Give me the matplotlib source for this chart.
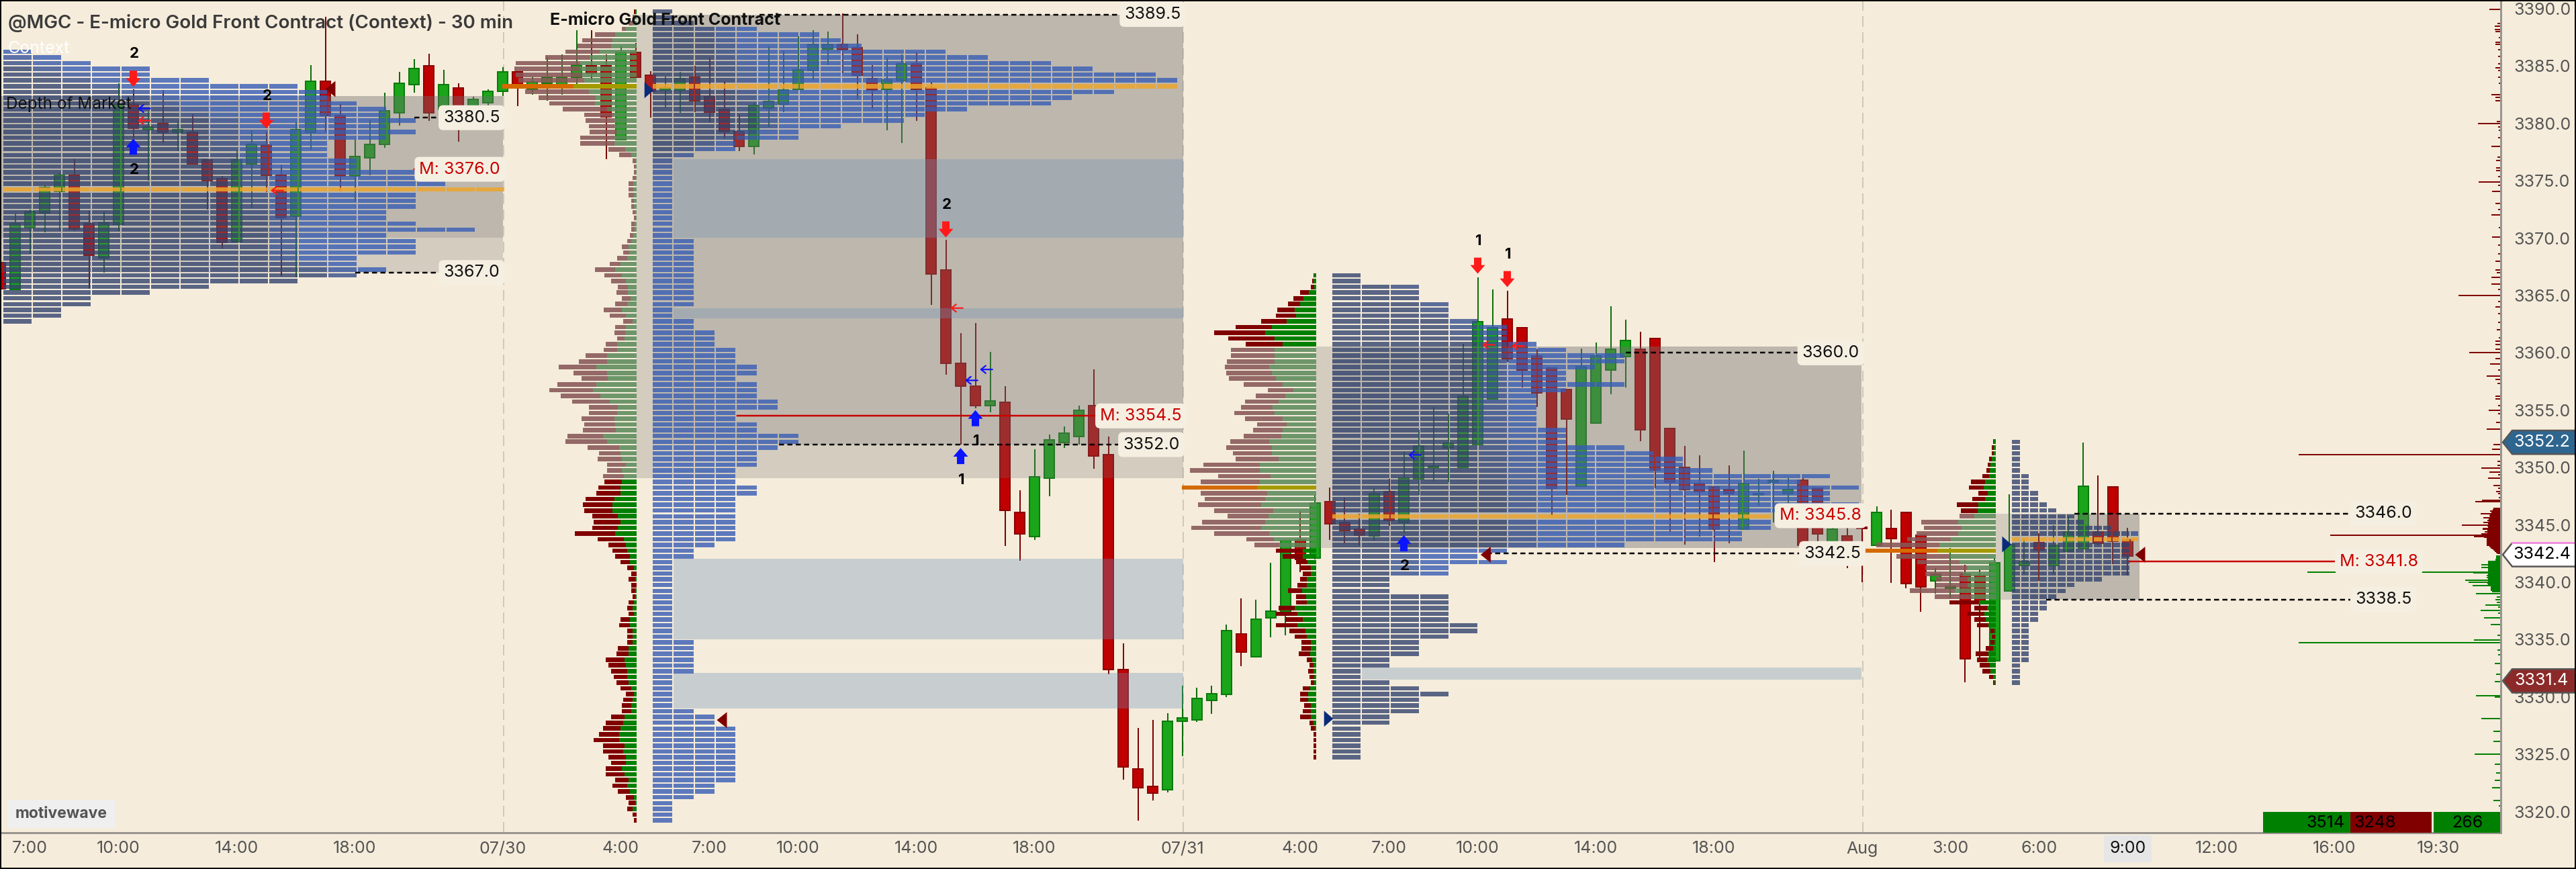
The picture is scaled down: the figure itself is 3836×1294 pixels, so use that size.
import numpy as np
import matplotlib
matplotlib.use('Agg')
import matplotlib.pyplot as plt
from matplotlib.patches import Rectangle, Polygon, FancyBboxPatch

plt.rcParams['font.family'] = ['Inter', 'DejaVu Sans']

BG = '#F5ECDB'
PX_PER_BAR = 22.0
PX_PER_POINT = 17.08

# 30 min bars, first one is bar -34, bar 0 sits on the 07/30 separator
FIRST_BAR = -34
bar_open = [
    3367.87, 3365.5, 3370.9, 3372.2, 3374.06, 3375.5, 3371.27, 3368.3, 3371.2, 3381.7,
    3379.45, 3380.0, 3379.2, 3379.2, 3376.85, 3375.2, 3369.7, 3376.5, 3378.1, 3375.5,
    3371.9, 3379.2, 3383.65, 3380.7, 3375.4, 3377.0, 3378.2, 3380.9, 3383.4, 3385.0,
    3381.2, 3383.1, 3381.2, 3381.8, 3382.8, 3384.5, 3383.0, 3383.5, 3383.3, 3384.0,
    3385.0, 3385.0, 3378.6, 3386.2, 3384.2, 3382.9, 3382.9, 3384.0, 3382.3, 3381.2,
    3379.3, 3378.0, 3381.35, 3381.7, 3383.0, 3384.6, 3386.5, 3386.9, 3386.6, 3383.9,
    3383.0, 3383.75, 3385.2, 3383.1, 3367.2, 3359.1, 3357.1, 3355.4, 3355.7, 3346.1,
    3344.0, 3349.1, 3352.2, 3352.7, 3355.4, 3351.1, 3332.4, 3323.7, 3322.2, 3321.9,
    3327.9, 3328.0, 3329.7, 3330.2, 3335.5, 3333.5, 3336.9, 3337.4, 3343.7, 3342.1,
    3347.0, 3345.2, 3344.6, 3344.05, 3347.9, 3345.2, 3349.0, 3350.0, 3351.7, 3350.0,
    3352.0, 3356.0, 3362.95, 3362.2, 3359.75, 3358.7, 3356.8, 3348.4, 3353.9, 3358.5,
    3359.7, 3360.3, 3361.25, 3353.4, 3350.0, 3348.6, 3348.3, 3348.1, 3344.65, 3347.6,
    3348.7, 3347.7, 3348.9, 3348.2, 3343.2, 3344.05, 3344.8, 3343.2, 3344.7, 3346.1,
    3344.1, 3340.1, 3339.5, 3340.7, 3340.6, 3333.15, 3339.25, 3341.45, 3343.45, 3341.45,
    3342.7, 3342.9, 3344.4, 3348.3, 3343.7, 3343.8][:145]
bar_close = [
    3365.6, 3371.27, 3372.3, 3374.45, 3375.5, 3370.8, 3368.5, 3371.3, 3381.7, 3379.6,
    3379.7, 3379.25, 3379.45, 3376.5, 3375.0, 3369.6, 3376.85, 3378.2, 3375.5, 3371.8,
    3379.45, 3383.65, 3380.7, 3375.4, 3377.1, 3378.2, 3381.1, 3383.5, 3384.8, 3380.9,
    3383.4, 3380.9, 3382.1, 3382.8, 3384.5, 3383.35, 3383.6, 3384.0, 3384.0, 3385.1,
    3384.4, 3380.6, 3386.2, 3384.04, 3382.8, 3383.1, 3383.9, 3382.0, 3381.0, 3379.26,
    3378.0, 3381.56, 3381.9, 3382.9, 3384.7, 3386.9, 3386.9, 3386.45, 3384.2, 3382.9,
    3383.8, 3385.2, 3383.0, 3366.9, 3359.1, 3357.1, 3355.4, 3355.8, 3346.25, 3344.2,
    3349.2, 3352.4, 3353.0, 3355.0, 3351.0, 3332.4, 3323.9, 3322.1, 3321.6, 3327.9,
    3328.2, 3329.85, 3330.3, 3335.8, 3333.9, 3336.8, 3337.5, 3343.6, 3342.0, 3346.9,
    3345.1, 3344.5, 3344.1, 3347.7, 3345.4, 3349.1, 3351.9, 3350.0, 3352.1, 3356.2,
    3362.7, 3362.2, 3359.5, 3358.5, 3356.5, 3348.2, 3354.2, 3358.8, 3359.75, 3360.3,
    3361.1, 3353.3, 3349.75, 3348.7, 3348.1, 3347.9, 3344.65, 3347.7, 3348.6, 3347.6,
    3348.9, 3348.1, 3343.2, 3344.2, 3344.6, 3343.4, 3344.7, 3346.1, 3343.8, 3339.9,
    3339.6, 3340.7, 3339.6, 3333.3, 3338.3, 3341.7, 3343.25, 3341.8, 3342.8, 3343.2,
    3344.4, 3348.4, 3343.4, 3343.55, 3342.3][:145]
bar_high = [
    3369.0, 3372.12, 3372.5, 3374.6, 3375.7, 3376.9, 3372.4, 3372.3, 3383.5, 3383.0,
    3381.05, 3382.9, 3380.2, 3380.8, 3376.9, 3375.4, 3377.65, 3379.4, 3379.3, 3376.4,
    3380.1, 3385.1, 3389.3, 3381.66, 3378.6, 3380.3, 3382.7, 3384.5, 3385.6, 3386.1,
    3384.7, 3383.5, 3382.3, 3383.0, 3384.9, 3384.5, 3384.0, 3385.8, 3386.0, 3388.1,
    3388.1, 3386.0, 3386.8, 3387.0, 3384.56, 3384.1, 3384.5, 3385.0, 3385.7, 3383.7,
    3380.8, 3381.8, 3386.7, 3386.3, 3387.6, 3388.1, 3388.0, 3389.6, 3387.8, 3385.06,
    3385.7, 3386.0, 3386.2, 3383.6, 3369.85, 3361.7, 3362.6, 3360.1, 3357.1, 3348.0,
    3351.6, 3352.86, 3353.6, 3355.4, 3358.55, 3352.7, 3334.7, 3327.3, 3328.0, 3328.6,
    3331.0, 3330.8, 3331.0, 3336.3, 3338.6, 3338.5, 3341.7, 3343.7, 3346.2, 3347.6,
    3348.25, 3347.4, 3346.0, 3348.2, 3349.0, 3351.4, 3353.3, 3355.3, 3354.7, 3360.8,
    3366.6, 3365.5, 3365.4, 3361.5, 3360.3, 3357.3, 3356.2, 3360.35, 3360.9, 3364.05,
    3362.9, 3361.85, 3356.3, 3351.7, 3351.9, 3351.06, 3348.2, 3350.2, 3351.45, 3349.0,
    3349.7, 3349.1, 3349.1, 3347.0, 3346.4, 3345.8, 3346.7, 3346.6, 3346.35, 3344.4,
    3341.1, 3341.2, 3343.0, 3341.5, 3341.1, 3342.1, 3347.65, 3343.8, 3344.3, 3345.0,
    3345.8, 3352.2, 3349.3, 3344.6, 3344.75][:145]
bar_low = [
    3365.6, 3365.5, 3368.6, 3370.5, 3370.6, 3370.6, 3365.6, 3367.0, 3370.6, 3378.7,
    3375.0, 3378.3, 3377.6, 3376.45, 3372.5, 3369.1, 3369.7, 3372.6, 3374.0, 3366.7,
    3366.6, 3377.7, 3379.2, 3374.1, 3373.2, 3375.5, 3377.9, 3379.8, 3382.7, 3380.2,
    3381.2, 3378.43, 3380.7, 3381.4, 3382.4, 3381.5, 3382.5, 3382.0, 3382.5, 3383.4,
    3383.8, 3376.9, 3378.5, 3384.0, 3380.5, 3381.4, 3380.9, 3381.0, 3380.1, 3378.7,
    3377.6, 3377.3, 3379.7, 3381.0, 3383.0, 3383.75, 3385.1, 3384.4, 3382.1, 3381.3,
    3379.4, 3378.3, 3380.2, 3364.2, 3358.1, 3352.0, 3355.15, 3354.8, 3343.15, 3341.9,
    3343.7, 3347.5, 3351.7, 3352.0, 3349.9, 3332.0, 3322.8, 3319.2, 3321.0, 3321.7,
    3324.85, 3327.85, 3328.55, 3330.0, 3332.7, 3333.5, 3335.2, 3335.4, 3340.85, 3342.0,
    3343.7, 3343.4, 3343.2, 3343.6, 3344.9, 3344.3, 3347.6, 3348.85, 3348.7, 3350.4,
    3354.95, 3360.8, 3359.2, 3357.0, 3355.3, 3345.8, 3347.6, 3353.9, 3356.5, 3356.4,
    3357.0, 3352.3, 3348.2, 3344.4, 3343.3, 3344.0, 3341.75, 3343.4, 3347.35, 3346.7,
    3345.2, 3346.7, 3343.2, 3343.2, 3343.9, 3341.2, 3340.0, 3344.0, 3339.95, 3339.5,
    3337.4, 3339.0, 3338.6, 3331.3, 3333.1, 3338.5, 3341.4, 3340.7, 3340.1, 3340.7,
    3342.7, 3343.8, 3343.2, 3341.6, 3340.6][:145]

# tpo block counts per 0.5 row, top row first
p1_blocks = [1, 2, 3, 5, 5, 7, 10, 11, 11, 12, 13, 13, 14, 13, 14, 13, 11, 11, 11, 12, 12, 14, 14, 15,
             17, 14, 14, 14, 13, 13, 14, 16, 13, 14, 14, 14, 12, 12, 13, 12, 10, 7, 5, 3, 3, 2, 2, 1]
p2_blocks = [1, 1, 2, 5, 8, 9, 10, 14, 16, 19, 21, 24, 25, 25, 22, 20, 19, 15, 13, 12, 9, 7, 7, 4, 4, 2,
             1, 1, 1, 1, 1, 1, 1, 1, 1, 1, 1, 1, 1, 1,
             2, 2, 2, 2, 2, 2, 2, 2, 2, 2, 2, 2, 1, 1, 2, 2, 3, 3, 3, 4, 4, 4, 5, 5, 4, 5, 5, 5, 6, 6,
             4, 4, 5, 5, 7, 7, 6, 5, 5, 5, 4, 4, 4, 5, 5, 4, 4, 4, 4, 4, 4, 4, 4, 3, 2, 2,
             1, 1, 1, 1, 1, 1, 1, 1, 1, 1, 1, 1, 1, 1, 2, 2, 2, 2, 2, 2, 1, 1, 1, 1, 1, 1,
             2, 3, 3, 4, 4, 4, 4, 4, 4, 4, 4, 4, 4, 3, 3, 2, 1, 1, 1, 1]
p3_blocks = [1, 1, 3, 3, 3, 4, 4, 4, 5, 6, 6, 6, 7, 8, 10, 10, 9, 8, 8, 10, 8, 7, 7, 7, 7, 7, 7, 8, 8, 8,
             10, 11, 12, 12, 13, 17, 16, 18, 17, 17, 18, 16, 15, 15, 15, 14, 14, 10, 6, 5,
             6, 4, 4, 2, 2, 2, 4, 4, 4, 4, 4, 5, 5, 4, 3, 3, 3, 2, 2, 1, 1, 2, 3, 4, 3, 3, 3, 2, 2, 1,
             1, 1, 1, 1, 1]
p4_blocks = [1, 1, 1, 1, 1, 1, 2, 2, 2, 3, 3, 4, 5, 7, 8, 11, 14, 14, 13, 13, 13, 13, 13, 13, 10, 7, 6, 5,
             4, 4, 3, 3, 2, 2, 2, 2, 2, 2, 2, 1, 1, 1, 1]

# volume at price, same rows as the blocks
p2_total = [4, 6, 12, 22, 62, 81, 88, 106, 136, 180, 182, 180, 176, 200, 166, 146, 130, 110, 78, 76, 71, 70, 84, 84, 42, 26,
            6, 4, 4, 6, 12, 12, 12, 8, 8, 6, 4, 8, 8, 10,
            14, 22, 20, 29, 40, 62, 48, 38, 28, 30, 22, 32, 49, 40, 20, 32, 33, 29, 46, 49, 76, 86, 116, 94, 82, 118, 130, 113, 96, 71,
            71, 82, 78, 80, 103, 106, 73, 56, 58, 44, 44, 50, 48, 57, 60, 76, 80, 78, 66, 64, 66, 92, 58, 42, 36, 32,
            24, 14, 8, 12, 8, 8, 6, 12, 14, 12, 24, 26, 14, 14, 14, 28, 30, 46, 42, 38, 34, 30, 24, 16, 20, 22,
            22, 38, 46, 50, 56, 64, 50, 50, 42, 38, 46, 46, 32, 36, 28, 16, 12, 14, 6, 4]
p2_buy = [2, 3, 6, 16, 32, 36, 38, 55, 70, 84, 84, 81, 78, 94, 71, 61, 62, 44, 34, 33, 33, 30, 33, 33, 17, 8,
          1, 1, 1, 1, 5, 5, 4, 4, 4, 2, 1, 3, 3, 5,
          8, 12, 11, 14, 24, 32, 22, 16, 13, 13, 9, 14, 22, 16, 6, 16, 17, 18, 29, 29, 44, 44, 60, 44, 43, 60, 65, 54, 40, 28,
          29, 33, 32, 31, 50, 44, 26, 24, 22, 16, 22, 19, 22, 24, 24, 33, 36, 36, 28, 24, 28, 32, 19, 16, 14, 10,
          10, 4, 0, 2, 0, 2, 2, 4, 6, 4, 10, 10, 6, 6, 6, 12, 12, 18, 16, 14, 14, 12, 8, 4, 6, 8,
          8, 18, 20, 24, 26, 26, 18, 20, 16, 16, 22, 18, 12, 14, 10, 4, 2, 6, 0, 0]
p3_total = [4, 6, 8, 24, 34, 42, 58, 60, 82, 120, 152, 131, 105, 127, 127, 133, 136, 134, 130, 108, 72, 90, 106, 112, 122,
            106, 88, 94, 108, 128, 134, 124, 120, 168, 188, 146, 172, 200, 172, 166, 176, 152, 132, 170, 186, 152, 104, 92, 60, 50,
            30, 23, 20, 24, 28, 42, 30, 30, 56, 60, 46, 60, 40, 32, 22, 22, 26, 14, 10, 12, 10, 8, 20, 24, 24, 18, 20, 24, 10, 8,
            4, 4, 4, 4, 4]
p3_buy = [3, 4, 3, 11, 19, 24, 32, 30, 44, 66, 76, 62, 50, 62, 62, 62, 70, 66, 60, 50, 34, 46, 56, 65, 62,
          50, 44, 50, 52, 70, 66, 66, 56, 84, 84, 68, 84, 88, 73, 76, 82, 64, 71, 76, 82, 70, 63, 55, 20, 20,
          13, 8, 8, 14, 14, 21, 15, 14, 32, 28, 20, 28, 16, 14, 8, 8, 9, 6, 4, 4, 3, 3, 9, 12, 12, 8, 8, 8, 4, 2,
          0, 0, 0, 0, 0]
p4_total = [4, 6, 6, 10, 12, 14, 20, 37, 40, 26, 35, 58, 52, 54, 111, 107, 118, 132, 178, 200, 148, 117, 105, 105, 89, 89,
            128, 91, 69, 32, 42, 32, 28, 8, 6, 8, 15, 30, 28, 24, 20, 10, 4]
p4_buy = [3, 3, 3, 6, 8, 9, 10, 16, 18, 12, 16, 26, 27, 32, 56, 51, 56, 67, 84, 87, 68, 54, 42, 49, 42, 42,
          61, 35, 25, 13, 17, 15, 11, 2, 1, 2, 4, 11, 13, 9, 8, 4, 2]

# dom sizes on the right edge
ask_prices = [3389.95, 3388.7, 3388.45, 3388.2, 3388.0, 3387.5, 3387.05, 3386.9, 3386.45, 3385.85, 3385.2, 3384.85, 3384.6,
              3384.0, 3383.5, 3382.5, 3382.25, 3382.0, 3380.15, 3380.0, 3379.7, 3379.4, 3378.75, 3378.0, 3377.05, 3376.75,
              3376.15, 3375.9, 3375.35, 3374.9, 3374.6, 3374.05, 3373.0, 3372.5, 3372.0, 3370.9, 3370.1, 3369.4, 3368.6,
              3368.0, 3367.2, 3367.0, 3366.6, 3366.0, 3365.5, 3365.0, 3364.5, 3364.0, 3363.4, 3362.65, 3362.0, 3361.3, 3361.0,
              3360.7, 3360.3, 3360.0, 3359.5, 3359.0, 3358.5, 3358.0, 3357.7, 3357.3, 3356.2, 3356.0, 3355.4, 3355.0, 3354.7,
              3353.95, 3353.35, 3352.0, 3351.6, 3351.15, 3350.52, 3350.2, 3349.97, 3349.6, 3349.35, 3349.05, 3348.45, 3348.2,
              3347.9, 3347.7, 3347.4, 3347.15, 3347.05, 3346.45,
              3346.3, 3346.2, 3346.1, 3346.0, 3345.9, 3345.8, 3345.7, 3345.6, 3345.5, 3345.4, 3345.3, 3345.2, 3345.1, 3345.0,
              3344.9, 3344.8, 3344.7, 3344.6, 3344.5, 3344.4, 3344.3, 3344.2, 3344.1, 3344.0, 3343.9, 3343.8, 3343.7, 3343.6,
              3343.5, 3343.4, 3343.3, 3343.2, 3343.1, 3343.0, 3342.9, 3342.8, 3342.7, 3342.6, 3342.5]
ask_sizes = [16, 4, 8, 8, 7, 2, 7, 7, 3, 3, 3, 7, 3,
             3, 2, 13, 7, 7, 5, 33, 3, 2, 3, 13, 4, 6,
             6, 6, 3, 32, 3, 12, 7, 3, 13, 2, 12, 3, 3,
             7, 7, 5, 13, 13, 3, 62, 3, 7, 3, 3, 5, 2, 7,
             7, 7, 46, 7, 15, 3, 20, 7, 4, 7, 7, 3, 17, 3,
             6, 20, 10, 12, 300, 4, 4, 28, 16, 3, 18, 10, 3,
             6, 3, 2, 27, 37, 10,
             11, 15, 13, 29, 15, 16, 15, 25, 17, 19, 17, 25, 18, 57,
             19, 18, 26, 26, 19, 23, 19, 28, 253, 39, 24, 20, 20, 20,
             20, 20, 20, 20, 16, 14, 12, 10, 8, 6, 4]
bid_prices = [3342.3, 3342.2, 3342.1, 3342.0, 3341.9, 3341.8, 3341.7, 3341.6, 3341.5, 3341.4, 3341.3, 3341.2, 3341.1, 3341.0,
              3340.9, 3340.8, 3340.7, 3340.6, 3340.5, 3340.4, 3340.3, 3340.2, 3340.1, 3340.0, 3339.9, 3339.8, 3339.7, 3339.6,
              3339.5, 3339.4, 3339.3, 3339.2, 3339.0, 3338.7, 3338.45, 3338.25, 3338.0, 3337.85, 3337.55, 3337.3, 3336.9,
              3336.3, 3335.37, 3334.98, 3334.75, 3334.1, 3333.7, 3332.9, 3332.0, 3331.35, 3330.1, 3330.0, 3328.1, 3327.0,
              3326.1, 3325.0, 3324.15, 3323.4, 3322.7, 3322.1, 3321.0, 3320.5]
bid_sizes = [6, 6, 6, 7, 7, 18, 18, 18, 28, 18, 28, 18, 18, 18,
             287, 40, 18, 20, 18, 20, 18, 52, 18, 47, 19, 18, 41, 14,
             14, 14, 14, 12, 36, 5, 7, 5, 22, 3, 29, 3, 24,
             14, 4, 39, 300, 4, 3, 8, 6, 8, 36, 8, 28, 10,
             10, 38, 8, 6, 8, 12, 10, 2]

# levels drawn as dashed lines: price, start bar, end bar, label bar
va_levels = [3389.5, 3380.5, 3367.0, 3352.0, 3360.0, 3342.5, 3346.0, 3338.5]
va_start = [17.4, -6.0, -10.0, 18.7, 76.0, 66.6, 106.4, 104.5]
va_end = [42.0, -4.1, -4.2, 42.0, 88.0, 88.0, 125.3, 125.3]
va_label_x = [44.0, -2.1, -2.1, 43.9, 89.9, 90.0, 127.3, 127.3]

mid_levels = [3376.0, 3354.5, 3345.8, 3341.8]
mid_start = [-6.0, 15.9, 0, 110.1]
mid_end = [-5.4, 40.3, 0, 124.0]
mid_label_x = [-2.9, 43.2, 89.2, 127.0]

xtick_bars = [-32, -26, -18, -10, 0, 8, 14, 20, 28, 36, 46, 54, 60, 66, 74, 82, 92, 98, 104, 110, 116, 124, 131]
xtick_labels = ['7:00', '10:00', '14:00', '18:00', '07/30', '4:00', '7:00', '10:00', '14:00', '18:00', '07/31',
                '4:00', '7:00', '10:00', '14:00', '18:00', 'Aug', '3:00', '6:00', '9:00', '12:00', '16:00', '19:30']
ytick_prices = list(range(3320, 3395, 5))

fig = plt.figure(figsize=(38.36, 12.94), dpi=100, facecolor=BG)
ax = fig.add_axes([0, 1 - 1240 / 1294, 3724 / 3836, 1240 / 1294])
ax.set_facecolor(BG)
ax.set_xlim(-748.5 / PX_PER_BAR, (3724 - 748.5) / PX_PER_BAR)
ax.set_ylim(3390.76 - 1240 / PX_PER_POINT, 3390.76)


def px(points):
    # line widths are read in pixels from the picture
    return points * 0.72


# --- candles
bars = np.arange(FIRST_BAR, FIRST_BAR + len(bar_open))
for n, o, h, l, c in zip(bars, bar_open, bar_high, bar_low, bar_close):
    up = c >= o
    ax.plot([n, n], [l, h], color='#0B6E0B' if up else '#7E0000', lw=px(2), zorder=2, solid_capstyle='butt')
    ax.add_patch(Rectangle((n - 0.33, min(o, c)), 0.66, max(abs(c - o), 0.12),
                           facecolor='#1AA51A' if up else '#C00000',
                           edgecolor='#0B7A0B' if up else '#8B0000', lw=px(2), zorder=2.1))

# --- value areas, drawn on top of the candles so these look washed out
GREY = '#707070'
areas = [(-34.1, 0.0, 3367.0, 3382.4, 3370.06),
         (9.07, 46.05, 3349.1, 3389.5, 3352.0),
         (55.07, 92.0, 3343.0, 3360.56, 3343.0),
         (101.07, 110.8, 3338.5, 3346.0, 3338.5)]
inner_start = [-34.1, 10.16, 56.16, 102.16]
for (x0, x1, lo, hi, inner_lo), x_in in zip(areas, inner_start):
    ax.add_patch(Rectangle((x0, lo), x1 - x0, hi - lo, fc=GREY, alpha=0.255, lw=0, zorder=3))
    ax.add_patch(Rectangle((x_in, inner_lo), x1 - x_in, hi - inner_lo, fc=GREY, alpha=0.22, lw=0, zorder=3))

# single print bands
band_lo = [3370.03, 3363.0, 3335.0, 3329.0, 3331.5]
band_hi = [3376.9, 3363.9, 3342.05, 3332.1, 3332.57]
band_x0 = [11.57, 11.57, 11.57, 11.57, 58.16]
band_x1 = [46.05, 46.05, 46.05, 46.05, 92.0]
for lo, hi, x0, x1 in zip(band_lo, band_hi, band_x0, band_x1):
    ax.add_patch(Rectangle((x0, lo), x1 - x0, hi - lo, fc='#6F93B8', alpha=0.33, lw=0, zorder=3.1))


def mix(a, b, t):
    ca, cb = matplotlib.colors.to_rgb(a), matplotlib.colors.to_rgb(b)
    return tuple(x * t + y * (1 - t) for x, y in zip(ca, cb))


def draw_blocks(counts, top, x0, width, poc_row, dark_rows, dark_cols):
    # tpo rows, older blocks are darker
    for i, count in enumerate(counts):
        dark = np.interp(i, dark_rows, dark_cols)
        for j in range(count):
            t = np.clip((dark - j) / 2.0, 0, 1)
            col = mix('#33436E', '#375DB5', t)
            a = 0.8
            if i == poc_row:
                col, a = '#EDA52C', 0.85
            ax.add_patch(Rectangle((x0 + j * width, top - i * 0.5 - 0.19), width - 2.0 / PX_PER_BAR, 0.38,
                                   fc=col, alpha=a, lw=0, zorder=4))


def draw_volume(total, buy, top, right, poc_row, va_lo, va_hi):
    for i, (t, b) in enumerate(zip(total, buy)):
        y = top - i * 0.5
        muted = va_lo <= y <= va_hi
        red, green, a = ('#875757', '#5B8A5B', 0.88) if muted else ('#800000', '#008000', 1.0)
        if i == poc_row:
            red, green, a = '#D46A00', '#A39A00', 1.0
        ax.barh(y, (t - b) / PX_PER_BAR, 0.39, left=right - t / PX_PER_BAR, color=red, alpha=a, zorder=3.5)
        ax.barh(y, b / PX_PER_BAR, 0.39, left=right - b / PX_PER_BAR, color=green, alpha=a, zorder=3.5)


draw_blocks(p1_blocks, 3386.25, -34.0 + 4.6 / PX_PER_BAR, 2.0, 24, [0, 6, 12, 30, 36, 40, 47], [0, 4, 8, 10, 10, 13, 13])
draw_blocks(p2_blocks, 3389.75, 10.16, 1.423, 13, [0, 5, 20, 26, 30, 141], [3, 4, 6, 1, 0, 0])
draw_blocks(p3_blocks, 3366.75, 56.16, 1.986, 42, [0, 12, 25, 40, 47, 48, 52, 55, 84], [3, 6, 6, 7, 7, 3, 3, 18, 18])
draw_blocks(p4_blocks, 3352.25, 102.16, 0.618, 17, [0, 42], [14, 14])

draw_volume(p2_total, p2_buy, 3389.75, 9.07, 13, 3349.1, 3389.5)
draw_volume(p3_total, p3_buy, 3366.75, 55.07, 37, 3343.0, 3360.56)
draw_volume(p4_total, p4_buy, 3352.25, 101.07, 19, 3338.5, 3346.0)

# --- session separators
for sep in [0.07, 46.07, 92.05]:
    ax.axvline(sep, color='#CFC9BC', lw=px(2), dashes=(8, 4), zorder=1.5)


def level_label(x, y, text, color, size=18):
    ax.text(x, y, text, color=color, fontsize=size, ha='center', va='center', zorder=7,
            bbox=dict(boxstyle='round,pad=0.28', fc='#F5EFE2', ec='none'))


for lvl, x0, x1, xl in zip(va_levels, va_start, va_end, va_label_x):
    ax.plot([x0, x1], [lvl, lvl], color='black', lw=px(2.5), dashes=(3, 2), zorder=6)
    level_label(xl, lvl, f'{lvl:.1f}', '#111111')
for lvl, x0, x1, xl in zip(mid_levels, mid_start, mid_end, mid_label_x):
    if x1 > x0:
        ax.plot([x0, x1], [lvl, lvl], color='#C80000', lw=px(2.5), zorder=6)
    level_label(xl, lvl, f'M: {lvl:.1f}', '#C80000')

# --- signal arrows
down_bars = [-25, -16, 30, 66, 68]
down_tips = [3383.2, 3379.55, 3370.06, 3366.9, 3365.73]
down_tags = ['2', '2', '2', '1', '1']
up_bars = [-25, 32, 31, 61]
up_tips = [3378.67, 3355.0, 3351.7, 3344.1]
up_tags = ['2', '1', '1', '2']
up_tag_gap = [2.7, 2.7, 2.8, 2.7]


def block_arrow(n, tip, direction, color):
    s = direction
    hw, sw = 0.5, 0.25
    pts = [(n, tip), (n + hw, tip - s * 0.75), (n + sw, tip - s * 0.75), (n + sw, tip - s * 1.4),
           (n - sw, tip - s * 1.4), (n - sw, tip - s * 0.75), (n - hw, tip - s * 0.75)]
    ax.add_patch(Polygon(pts, closed=True, fc=color, lw=0, zorder=8))


for n, tip, tag in zip(down_bars, down_tips, down_tags):
    block_arrow(n, tip, -1, '#FF1A1A')
    ax.text(n + 0.05, tip + 2.85, tag, fontsize=16, fontweight='bold', ha='center', va='center', color='black', zorder=8)
for n, tip, tag, gap in zip(up_bars, up_tips, up_tags, up_tag_gap):
    block_arrow(n, tip, 1, '#0A14FF')
    ax.text(n + 0.05, tip - gap, tag, fontsize=16, fontweight='bold', ha='center', va='center', color='black', zorder=8)

small_x = [-24.3, -24.3, -15.3, 30.7, 31.7, 32.7, 66.7, 68.7, 61.7]
small_y = [3381.3, 3380.25, 3374.15, 3363.9, 3357.6, 3358.55, 3360.7, 3360.6, 3351.1]
small_c = ['#1010FF', '#FF1A1A', '#FF1A1A', '#FF1A1A', '#1010FF', '#1010FF', '#FF1A1A', '#FF1A1A', '#1010FF']
for x, y, c in zip(small_x, small_y, small_c):
    ax.annotate('', xy=(x - 0.4, y), xytext=(x + 0.45, y), zorder=8,
                arrowprops=dict(arrowstyle='->,head_length=0.5,head_width=0.4', color=c, lw=px(2.2), shrinkA=0, shrinkB=0))

tri_x = [-12.0, 14.5, 66.2, 110.5]
tri_y = [3383.0, 3327.98, 3342.4, 3342.4]
for x, y in zip(tri_x, tri_y):
    ax.add_patch(Polygon([(x, y), (x + 0.68, y + 0.7), (x + 0.68, y - 0.7)], fc='#7E0000', lw=0, zorder=8))
nav_x = [9.6, 55.6, 101.5]
nav_y = [3382.9, 3328.1, 3343.3]
for x, y in zip(nav_x, nav_y):
    ax.add_patch(Polygon([(x + 0.62, y), (x, y + 0.7), (x, y - 0.7)], fc='#0A2A7A', lw=0, zorder=8))

# --- depth of market
dom_right = (3723 - 748.5) / PX_PER_BAR
for p, s in zip(ask_prices, ask_sizes):
    ax.plot([dom_right - s / PX_PER_BAR, dom_right], [p, p], color='#800000', lw=px(2), zorder=5, solid_capstyle='butt')
for p, s in zip(bid_prices, bid_sizes):
    ax.plot([dom_right - s / PX_PER_BAR, dom_right], [p, p], color='#008000', lw=px(2), zorder=5, solid_capstyle='butt')

# --- bottom right delta boxes
delta_labels = ['3514', '3248', '266']
delta_x0 = [119.16, 125.07, 130.7]
delta_x1 = [125.07, 130.57, dom_right]
delta_colors = ['#008000', '#800000', '#008000']
for x0, x1, col in zip(delta_x0, delta_x1, delta_colors):
    ax.add_patch(Rectangle((x0, ax.get_ylim()[0]), x1 - x0, 3320.0 - ax.get_ylim()[0], fc=col, lw=0, zorder=5))
ax.text(124.7, 3319.0, delta_labels[0], fontsize=18, ha='right', va='center', color='black', zorder=6)
ax.text(125.33, 3319.0, delta_labels[1], fontsize=18, ha='left', va='center', color='black', zorder=6)
ax.text(133.0, 3319.0, delta_labels[2], fontsize=18, ha='center', va='center', color='black', zorder=6)

# --- axes
for side in ['top', 'left']:
    ax.spines[side].set_visible(False)
for side in ['right', 'bottom']:
    ax.spines[side].set_color('#999590')
    ax.spines[side].set_linewidth(px(3))
ax.yaxis.tick_right()
ax.set_yticks(ytick_prices)
ax.set_yticklabels([f'{p:.1f}' for p in ytick_prices], fontsize=18, color='#555555')
ax.set_xticks(xtick_bars)
ax.set_xticklabels(xtick_labels, fontsize=18, color='#555555')
ax.tick_params(axis='y', length=0, pad=14)
ax.tick_params(axis='x', length=0, pad=9)
for lab, txt in zip(ax.get_xticklabels(), xtick_labels):
    if txt == '9:00':
        lab.set_color('#111111')
        lab.set_bbox(dict(boxstyle='square,pad=0.35', fc='#E6E6E6', ec='none'))

# --- price tags
tag_price = [3352.2, 3342.4, 3331.4]
tag_face = ['#2F6690', 'white', '#8C2A2A']
tag_text = ['white', 'black', 'white']
tip_x = (3727 - 748.5) / PX_PER_BAR
sh_x = (3741 - 748.5) / PX_PER_BAR
end_x = (3840 - 748.5) / PX_PER_BAR
for p, fc, tc in zip(tag_price, tag_face, tag_text):
    h = 1.03
    ax.add_patch(Polygon([(tip_x, p), (sh_x, p + h), (end_x, p + h), (end_x, p - h), (sh_x, p - h)],
                         fc=fc, ec='#555555', lw=px(2.5), clip_on=False, zorder=9))
    ax.text((3785 - 748.5) / PX_PER_BAR, p, f'{p:.1f}', fontsize=18, color=tc, ha='center', va='center',
            clip_on=False, zorder=10)
ax.plot([sh_x, end_x], [3342.4 + 1.03] * 2, color='#F090E0', lw=px(3), clip_on=False, zorder=10)

# --- headers
ax.text(-33.5, 3388.75, '@MGC - E-micro Gold Front Contract (Context) - 30 min', fontsize=20, fontweight='semibold',
        color='#3A3A3A', ha='left', va='center', zorder=11)
ax.text(-33.5, 3386.5, 'Context', fontsize=18, color='white', ha='left', va='center', zorder=11)
ax.text(-33.6, 3381.65, 'Depth of Market', fontsize=17.5, color='#111111', ha='left', va='center', zorder=11)
ax.text(3.2, 3389.0, 'E-micro Gold Front Contract', fontsize=18, fontweight='bold', color='#111111', ha='left', va='center', zorder=11)
ax.add_patch(Rectangle((-33.52, 3318.56), 7.27, 2.46, fc='#EFEFEF', ec='none', zorder=11))
ax.text(-29.88, 3319.8, 'motivewave', fontsize=16.5, fontweight='bold', color='#555555', ha='center', va='center', zorder=12)

fig.add_artist(Rectangle((0, 0), 1, 1, transform=fig.transFigure, fc='none', ec='black', lw=px(4)))
fig.savefig('out.png', dpi=100, facecolor=BG)
